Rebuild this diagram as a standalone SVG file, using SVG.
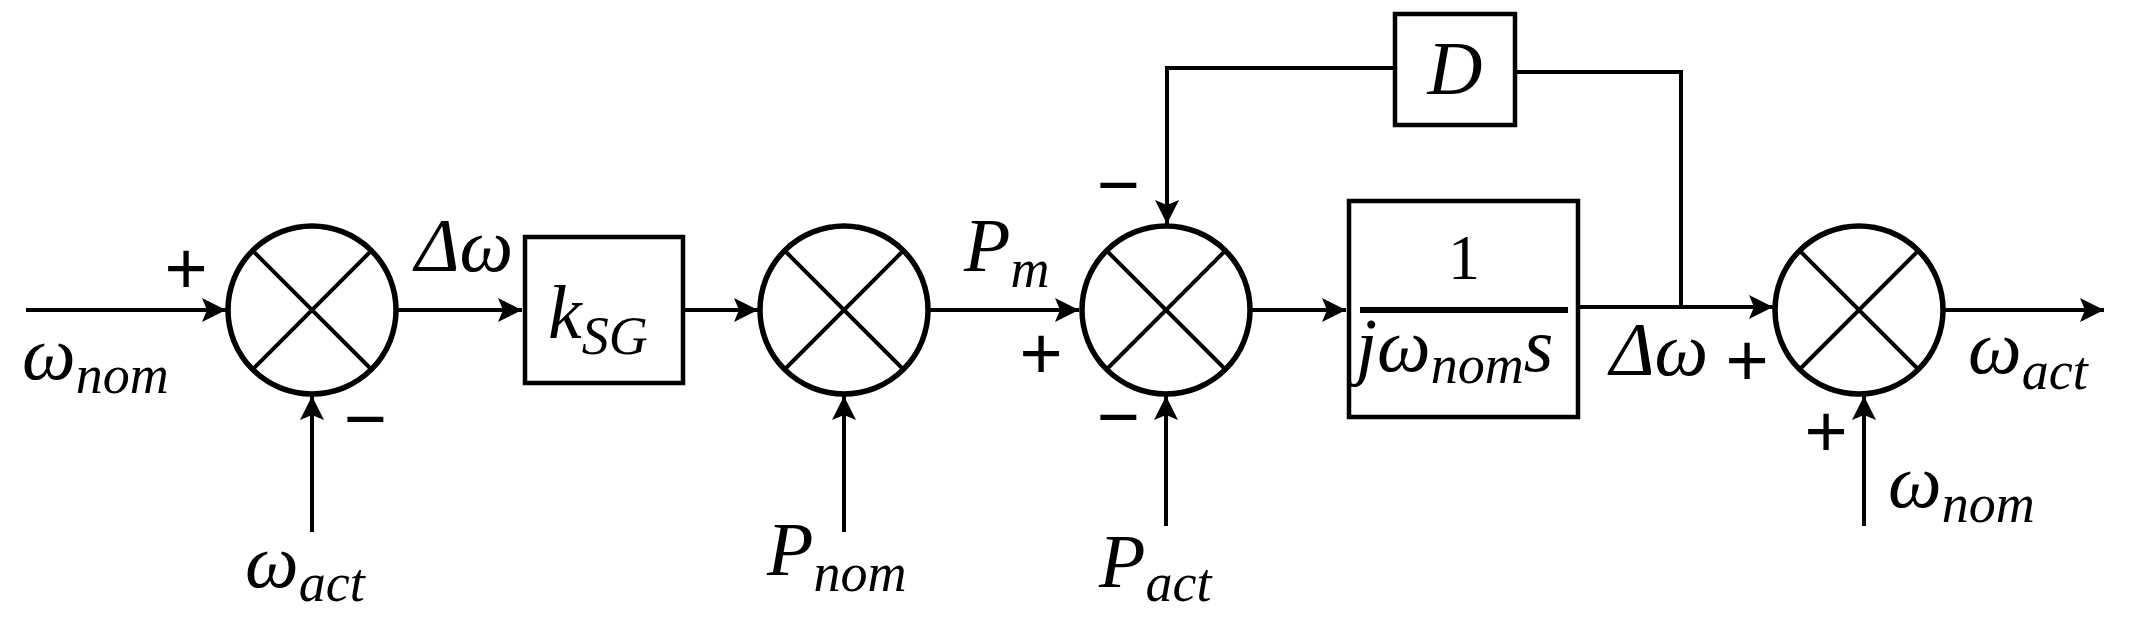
<svg xmlns="http://www.w3.org/2000/svg" width="2130" height="639" viewBox="0 0 2130 639">
<defs>
<marker id="ah" viewBox="0 0 24 24" refX="24" refY="12" markerWidth="24" markerHeight="24" markerUnits="userSpaceOnUse" orient="auto">
<path d="M0,0 L24,12 L0,24 L5,12 Z" fill="#000"/>
</marker>
</defs>
<style>
.w{stroke:#000;stroke-width:4;fill:none}
.c{stroke:#000;stroke-width:5.5;fill:#fff}
.x{stroke:#000;stroke-width:4}
.b{stroke:#000;stroke-width:4.5;fill:#fff}
.m{font-family:"Liberation Serif","DejaVu Serif",serif;font-style:italic;font-size:76px;fill:#000}
.s{font-size:54px}
.sg{font-family:"Liberation Sans",Arial,sans-serif;font-size:74px;fill:#000;text-anchor:middle}
</style>
<g id="connectors">
<path class="w" d="M26,310 H226" marker-end="url(#ah)"/>
<path class="w" d="M312,532 V396" marker-end="url(#ah)"/>
<path class="w" d="M397,310 H522" marker-end="url(#ah)"/>
<path class="w" d="M683,310 H758" marker-end="url(#ah)"/>
<path class="w" d="M844,532 V396" marker-end="url(#ah)"/>
<path class="w" d="M928,310 H1079" marker-end="url(#ah)"/>
<path class="w" d="M1166,526 V396" marker-end="url(#ah)"/>
<path class="w" d="M1395,68 H1167 V224" marker-end="url(#ah)"/>
<path class="w" d="M1250,310 H1346" marker-end="url(#ah)"/>
<path class="w" d="M1578,307 H1773" marker-end="url(#ah)"/>
<path class="w" d="M1515,72 H1681 V307"/>
<path class="w" d="M1943,310 H2104" marker-end="url(#ah)"/>
<path class="w" d="M1864,526 V396" marker-end="url(#ah)"/>
</g>
<g id="sum1">
<circle class="c" cx="312" cy="310" r="84"/>
<path class="x" d="M253,251 L371,369 M371,251 L253,369"/>
</g>
<g id="sum2">
<circle class="c" cx="844" cy="310" r="84"/>
<path class="x" d="M785,251 L903,369 M903,251 L785,369"/>
</g>
<g id="sum3">
<circle class="c" cx="1166" cy="310" r="84"/>
<path class="x" d="M1107,251 L1225,369 M1225,251 L1107,369"/>
</g>
<g id="sum4">
<circle class="c" cx="1859" cy="310" r="84"/>
<path class="x" d="M1800,251 L1918,369 M1918,251 L1800,369"/>
</g>
<g id="ksg">
<rect class="b" x="525" y="237" width="158" height="146"/>
<text class="m" x="548" y="338">k<tspan class="s" dy="16">SG</tspan></text>
</g>
<g id="d">
<rect class="b" x="1395" y="14" width="120" height="111"/>
<text class="m" x="1455" y="94" text-anchor="middle">D</text>
</g>
<g id="integ">
<rect class="b" x="1349" y="201" width="229" height="216"/>
<path d="M1360,310 H1568" stroke="#000" stroke-width="6"/>
<text x="1464" y="279" text-anchor="middle" font-family="Liberation Serif,serif" font-size="64">1</text>
<text class="m" x="1356" y="371" font-size="64">jω<tspan class="s" font-size="46" dy="12">nom</tspan><tspan dy="-12">s</tspan></text>
</g>
<g id="labels">
<text class="m" x="22" y="379">ω<tspan class="s" dy="14">nom</tspan></text>
<text class="m" x="245" y="587">ω<tspan class="s" dy="14">act</tspan></text>
<text class="m" x="415" y="271">Δω</text>
<text class="m" x="964" y="271">P<tspan class="s" dy="16">m</tspan></text>
<text class="m" x="767" y="575">P<tspan class="s" dy="16">nom</tspan></text>
<text class="m" x="1099" y="587">P<tspan class="s" dy="14">act</tspan></text>
<text class="m" x="1610" y="375">Δω</text>
<text class="m" x="1968" y="373">ω<tspan class="s" dy="16">act</tspan></text>
<text class="m" x="1888" y="507">ω<tspan class="s" dy="15">nom</tspan></text>
<text class="sg" x="186" y="294">+</text>
<text class="sg" x="365" y="444">−</text>
<text class="sg" x="1041" y="379">+</text>
<text class="sg" x="1118" y="210">−</text>
<text class="sg" x="1118" y="442">−</text>
<text class="sg" x="1747" y="386">+</text>
<text class="sg" x="1826" y="457">+</text>
</g>
</svg>
